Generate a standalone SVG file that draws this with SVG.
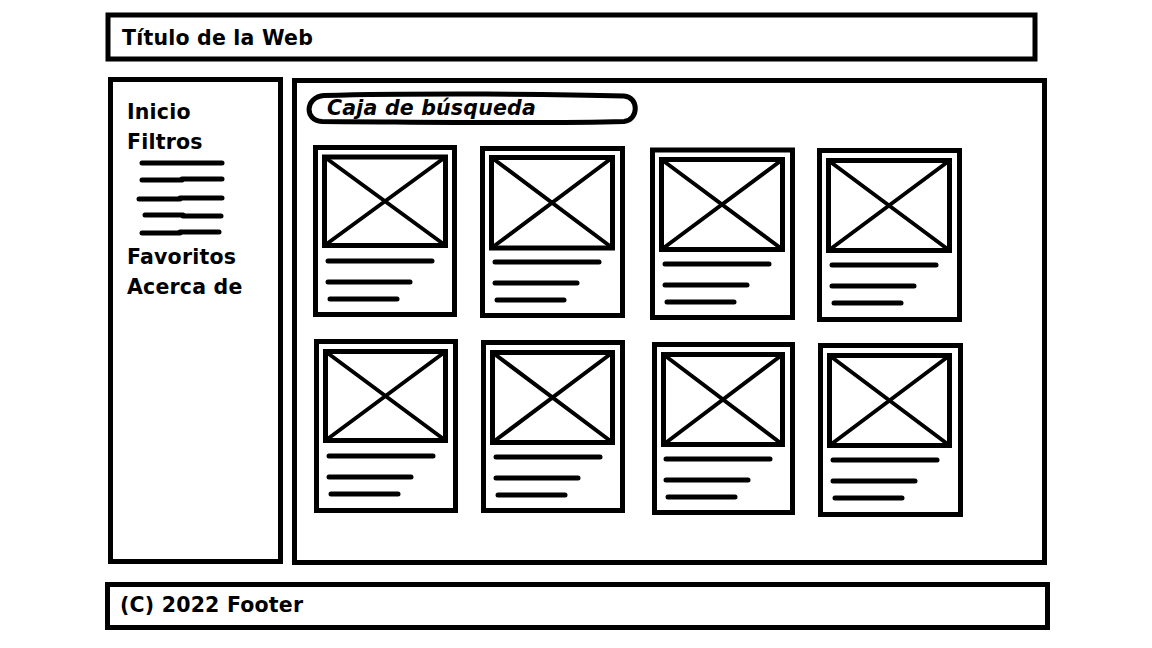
<svg xmlns="http://www.w3.org/2000/svg" width="1152" height="648" viewBox="0 0 1152 648">
  <style>
    .box { fill: none; stroke: #000; stroke-width: 5; }
    .img { fill: none; stroke: #000; stroke-width: 5; }
    .cross { stroke: #000; stroke-width: 4; }
    .ln { stroke: #000; stroke-width: 5; stroke-linecap: round; }
    .lbl { font-family: "DejaVu Sans", "Liberation Sans", sans-serif; font-weight: 700; font-size: 20.5px; letter-spacing: 0.2px; fill: #000; }
    .it { font-style: italic; }
  </style>
  <rect width="1152" height="648" fill="#fff"/>

  <g id="header">
    <rect class="box" x="108" y="15" width="927" height="44"/>
    <text class="lbl" x="122" y="45">Título de la Web</text>
  </g>

  <g id="sidebar">
    <rect class="box" x="110.5" y="79.5" width="170" height="482"/>
    <text class="lbl" x="127" y="119">Inicio</text>
    <text class="lbl" x="127" y="149">Filtros</text>
    <line class="ln" x1="142" y1="163" x2="222" y2="163"/>
    <line class="ln" x1="142" y1="180" x2="182" y2="180"/>
    <line class="ln" x1="182" y1="179" x2="222" y2="179"/>
    <line class="ln" x1="139" y1="199" x2="180" y2="199"/>
    <line class="ln" x1="180" y1="198" x2="222" y2="198"/>
    <line class="ln" x1="145" y1="215" x2="183" y2="215"/>
    <line class="ln" x1="183" y1="216" x2="221" y2="216"/>
    <line class="ln" x1="142" y1="233" x2="180" y2="233"/>
    <line class="ln" x1="180" y1="232" x2="219" y2="232"/>
    <text class="lbl" x="127" y="264">Favoritos</text>
    <text class="lbl" x="127" y="294">Acerca de</text>
  </g>

  <g id="content">
    <rect class="box" x="294.5" y="80.5" width="750" height="482"/>
  </g>

  <g id="search">
    <path class="box" d="M324 95.5 C420 93 560 94 624 96 C639 97 639 120 624 121.5 C540 124 420 122 322 121.5 C304 120.5 305 97 324 95.5 Z"/>
    <text class="lbl it" x="327" y="115">Caja de búsqueda</text>
  </g>

  <g id="card1">
    <rect class="box" x="315.5" y="147.5" width="139" height="167"/>
    <rect class="img" x="324.5" y="157" width="121" height="88.5"/>
    <path class="cross" d="M324.5 157 L445.5 245.5 M445.5 157 L324.5 245.5"/>
    <line class="ln" x1="328" y1="261" x2="432" y2="261"/>
    <line class="ln" x1="328" y1="282" x2="410" y2="282"/>
    <line class="ln" x1="330" y1="299" x2="397" y2="299"/>
  </g>
  <g id="card2">
    <rect class="box" x="482.5" y="148.5" width="140" height="167"/>
    <rect class="img" x="491.5" y="157.5" width="121" height="90.5"/>
    <path class="cross" d="M491.5 157.5 L612.5 248 M612.5 157.5 L491.5 248"/>
    <line class="ln" x1="495" y1="262" x2="599" y2="262"/>
    <line class="ln" x1="495" y1="283" x2="577" y2="283"/>
    <line class="ln" x1="497" y1="300" x2="564" y2="300"/>
  </g>
  <g id="card3">
    <rect class="box" x="652.5" y="150" width="140" height="167.5"/>
    <rect class="img" x="661.5" y="159.5" width="121" height="90"/>
    <path class="cross" d="M661.5 159.5 L782.5 249.5 M782.5 159.5 L661.5 249.5"/>
    <line class="ln" x1="665" y1="264" x2="769" y2="264"/>
    <line class="ln" x1="665" y1="285" x2="747" y2="285"/>
    <line class="ln" x1="667" y1="302" x2="734" y2="302"/>
  </g>
  <g id="card4">
    <rect class="box" x="819.5" y="150.5" width="140" height="169"/>
    <rect class="img" x="828.5" y="160.5" width="121" height="90"/>
    <path class="cross" d="M828.5 160.5 L949.5 250.5 M949.5 160.5 L828.5 250.5"/>
    <line class="ln" x1="832" y1="265" x2="936" y2="265"/>
    <line class="ln" x1="832" y1="286" x2="914" y2="286"/>
    <line class="ln" x1="834" y1="303" x2="901" y2="303"/>
  </g>
  <g id="card5">
    <rect class="box" x="316.5" y="341.5" width="139" height="169"/>
    <rect class="img" x="325.5" y="351.5" width="120" height="89"/>
    <path class="cross" d="M325.5 351.5 L445.5 440.5 M445.5 351.5 L325.5 440.5"/>
    <line class="ln" x1="329" y1="456" x2="433" y2="456"/>
    <line class="ln" x1="329" y1="477" x2="411" y2="477"/>
    <line class="ln" x1="331" y1="494" x2="398" y2="494"/>
  </g>
  <g id="card6">
    <rect class="box" x="483.5" y="342.5" width="139" height="168"/>
    <rect class="img" x="492.5" y="352.5" width="120" height="90"/>
    <path class="cross" d="M492.5 352.5 L612.5 442.5 M612.5 352.5 L492.5 442.5"/>
    <line class="ln" x1="496" y1="457" x2="600" y2="457"/>
    <line class="ln" x1="496" y1="478" x2="578" y2="478"/>
    <line class="ln" x1="498" y1="495" x2="565" y2="495"/>
  </g>
  <g id="card7">
    <rect class="box" x="654.5" y="344.5" width="138" height="168"/>
    <rect class="img" x="663.5" y="354.5" width="119" height="90"/>
    <path class="cross" d="M663.5 354.5 L782.5 444.5 M782.5 354.5 L663.5 444.5"/>
    <line class="ln" x1="666" y1="459" x2="770" y2="459"/>
    <line class="ln" x1="666" y1="480" x2="748" y2="480"/>
    <line class="ln" x1="668" y1="497" x2="735" y2="497"/>
  </g>
  <g id="card8">
    <rect class="box" x="820.5" y="345.5" width="140" height="169"/>
    <rect class="img" x="829.5" y="355.5" width="120" height="90"/>
    <path class="cross" d="M829.5 355.5 L949.5 445.5 M949.5 355.5 L829.5 445.5"/>
    <line class="ln" x1="833" y1="460" x2="937" y2="460"/>
    <line class="ln" x1="833" y1="481" x2="915" y2="481"/>
    <line class="ln" x1="835" y1="498" x2="902" y2="498"/>
  </g>

  <g id="footer">
    <rect class="box" x="107.5" y="584.5" width="940" height="43"/>
    <text class="lbl" x="120" y="612">(C) 2022 Footer</text>
  </g>
</svg>
